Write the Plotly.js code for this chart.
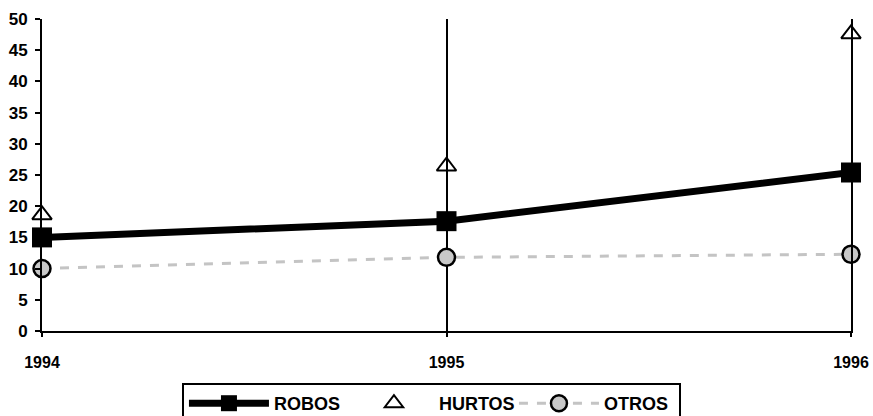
<!DOCTYPE html>
<html>
<head>
<meta charset="utf-8">
<script src="https://cdn.plot.ly/plotly-3.0.1.min.js"></script>
<style>html,body{margin:0;padding:0;background:#fff;}#chart{width:873px;height:416px;}</style>
</head>
<body>
<div id="chart"></div>
<script>
const years = ['1994', '1995', '1996'];
const robos = [15, 17.6, 25.4];
const hurtos = [18.6, 26.4, 47.6];
const otros = [10, 11.8, 12.3];
const yTicks = [0, 5, 10, 15, 20, 25, 30, 35, 40, 45, 50];

const traces = [
  {
    x: years, y: otros, name: 'OTROS', type: 'scatter', mode: 'lines+markers',
    line: {color: '#c4c4c4', width: 3, dash: 'dash'},
    marker: {symbol: 'circle', size: 17, color: '#c8c8c8', line: {width: 2.5, color: '#000'}},
    cliponaxis: false, legendrank: 3
  },
  {
    x: years, y: robos, name: 'ROBOS', type: 'scatter', mode: 'lines+markers',
    line: {color: '#000', width: 7},
    marker: {symbol: 'square', size: 20, color: '#000'},
    cliponaxis: false, legendrank: 1
  },
  {
    x: years, y: hurtos, name: 'HURTOS', type: 'scatter', mode: 'markers',
    marker: {symbol: 'triangle-up-open', size: 17, color: '#000', line: {width: 2, color: '#000'}},
    cliponaxis: false, legendrank: 2
  }
];

const layout = {
  width: 873, height: 416,
  margin: {l: 42, r: 22, t: 19, b: 85, autoexpand: false},
  paper_bgcolor: '#fff', plot_bgcolor: '#fff',
  font: {family: 'Liberation Sans, Arial, sans-serif', color: '#000', size: 13, weight: 'bold'},
  showlegend: true,
  legend: {
    orientation: 'h', x: 0.173, xanchor: 'left', y: -0.1667, yanchor: 'top',
    bordercolor: '#000', borderwidth: 2, bgcolor: '#fff',
    font: {size: 18, weight: 'bold'}, itemwidth: 80, entrywidth: 70, traceorder: 'normal'
  },
  xaxis: {
    type: 'category', range: [0, 2],
    showline: true, linecolor: '#000', linewidth: 2,
    showgrid: true, gridcolor: '#000', gridwidth: 2,
    ticks: 'outside', ticklen: 4, tickcolor: '#000', tickwidth: 2,
    ticklabelstandoff: 12,
    tickfont: {size: 16, weight: 'bold'},
    zeroline: false
  },
  yaxis: {
    range: [0, 50], tickvals: yTicks, ticktext: yTicks.map(String),
    showline: true, linecolor: '#000', linewidth: 2, mirror: true,
    showgrid: false, zeroline: false,
    ticks: 'outside', ticklen: 5, tickcolor: '#000', tickwidth: 2,
    ticklabelstandoff: 4,
    tickfont: {size: 17, weight: 'bold'}
  }
};

Plotly.newPlot('chart', traces, layout, {displayModeBar: false, staticPlot: true});
</script>
</body>
</html>
